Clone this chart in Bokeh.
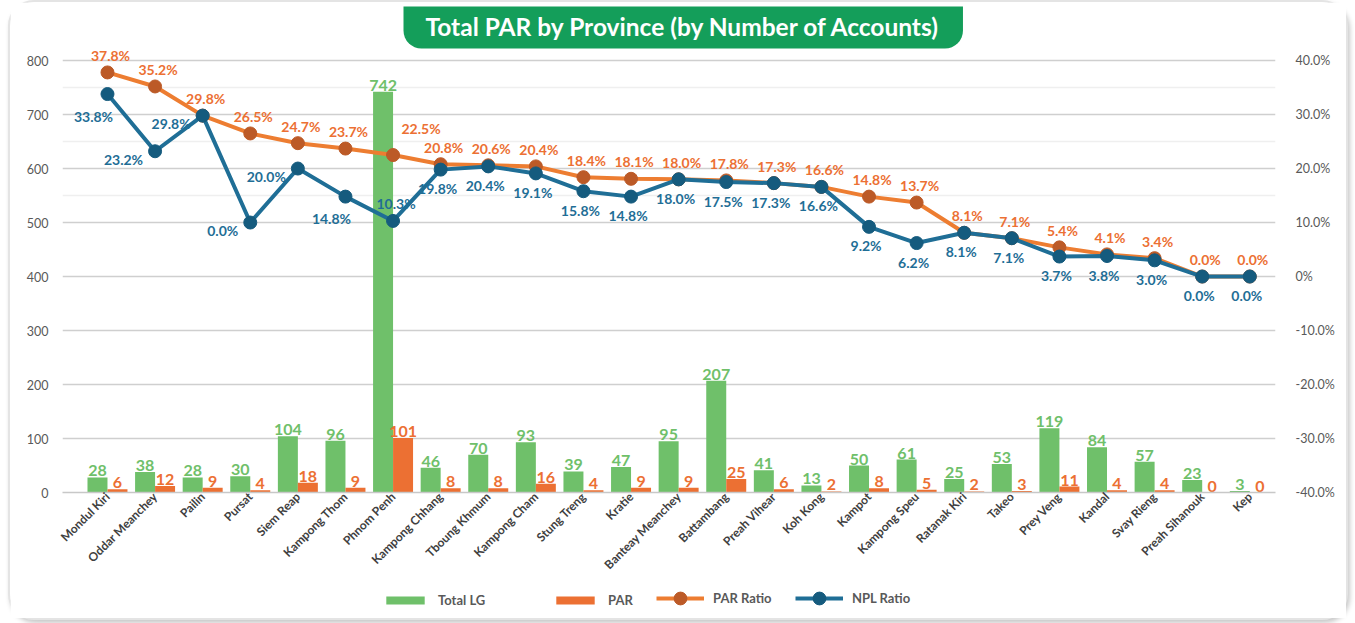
import math
from bokeh.plotting import figure
from bokeh.layouts import column
from bokeh.models import (Range1d, LinearAxis, FixedTicker, ColumnDataSource,
                          Legend, LegendItem, Span, CustomJSTickFormatter)
from bokeh.core.properties import value
from bokeh.embed import file_html
from bokeh.resources import INLINE

# ---------------- data ----------------
provinces = ["Mondul Kiri", "Oddar Meanchey", "Pailin", "Pursat", "Siem Reap", "Kampong Thom",
             "Phnom Penh", "Kampong Chhang", "Tboung Khmum", "Kampong Cham", "Stung Treng",
             "Kratie", "Banteay Meanchey", "Battambang", "Preah Vihear", "Koh Kong", "Kampot",
             "Kampong Speu", "Ratanak Kiri", "Takeo", "Prey Veng", "Kandal", "Svay Rieng",
             "Preah Sihanouk", "Kep"]
total_lg = [28, 38, 28, 30, 104, 96, 742, 46, 70, 93, 39, 47, 95, 207, 41, 13, 50, 61, 25, 53,
            119, 84, 57, 23, 3]
par = [6, 12, 9, 4, 18, 9, 101, 8, 8, 16, 4, 9, 9, 25, 6, 2, 8, 5, 2, 3, 11, 4, 4, 0, 0]
par_ratio = [37.8, 35.2, 29.8, 26.5, 24.7, 23.7, 22.5, 20.8, 20.6, 20.4, 18.4, 18.1, 18.0, 17.8,
             17.3, 16.6, 14.8, 13.7, 8.1, 7.1, 5.4, 4.1, 3.4, 0.0, 0.0]
# NPL ratio as plotted (Pursat point sits at ~10% although its label reads 0.0%)
npl_ratio = [33.8, 23.2, 29.8, 10.0, 20.0, 14.8, 10.3, 19.8, 20.4, 19.1, 15.8, 14.8, 18.0, 17.5,
             17.3, 16.6, 9.2, 6.2, 8.1, 7.1, 3.7, 3.8, 3.0, 0.0, 0.0]
npl_labels = ["33.8%", "23.2%", "29.8%", "0.0%", "20.0%", "14.8%", "10.3%", "19.8%", "20.4%",
              "19.1%", "15.8%", "14.8%", "18.0%", "17.5%", "17.3%", "16.6%", "9.2%", "6.2%",
              "8.1%", "7.1%", "3.7%", "3.8%", "3.0%", "0.0%", "0.0%"]
left_ticks = [0, 100, 200, 300, 400, 500, 600, 700, 800]
right_ticks = [-40, -30, -20, -10, 0, 10, 20, 30, 40]

# ---------------- style ----------------
GREEN = "#6FC06A"
ORANGE = "#EC7033"
ORANGE_LINE = "#ED7D31"
ORANGE_DOT = "#BC5A27"
BLUE = "#1F6E96"
BLUE_DOT = "#155B7E"
FONT = "Lato"
BAR_W = 0.42
Y_TOP = 822.33          # a little head-room above the 800 gridline for labels
PCT_TOP = -40 + 80 * Y_TOP / 800

par_place = ["above"] * 25
par_place[6] = "above_right"
npl_place = ["below_left", "left", "left", "left", "left", "below_left", "above"] + ["below"] * 18
offsets = {
    "above": (3, -17, "center"),
    "above_right": (28, -27, "center"),
    "below": (-3, 19, "center"),
    "below_left": (-14, 22, "center"),
    "left": (-12, 8, "right"),
}

p = figure(width=1336, height=580, output_backend="svg", toolbar_location=None,
           x_range=Range1d(-0.945, 24.54), y_range=Range1d(0, Y_TOP),
           min_border_left=52, min_border_right=71, min_border_top=46, min_border_bottom=90,
           outline_line_color=None, background_fill_color="white", border_fill_color="white")
p.extra_y_ranges = {"pct": Range1d(-40, PCT_TOP)}

# title banner
p.title.text = "Total PAR by Province (by Number of Accounts)"
p.title.align = "left"
p.title.offset = 341
p.title.text_font = FONT
p.title.text_font_style = "bold"
p.title.text_font_size = "24.5px"
p.title.text_color = "white"
p.title.background_fill_color = "#149E5A"
p.title.padding = dict(left=22, right=22, top=5, bottom=8)
p.title.border_radius = dict(top_left=0, top_right=0, bottom_right=18, bottom_left=18)
p.title.standoff = 0

# grid
p.xgrid.grid_line_color = None
p.ygrid.ticker = FixedTicker(ticks=left_ticks)
p.ygrid.grid_line_color = "#cfcfcf"
p.ygrid.grid_line_width = 1.5
for yv in (550, 650, 750):
    p.add_layout(Span(location=yv, dimension="width", line_color="#efefef", line_width=1.5,
                      level="underlay"))

# axes
p.yaxis.ticker = FixedTicker(ticks=left_ticks)
p.yaxis.axis_line_color = None
p.yaxis.major_tick_line_color = None
p.yaxis.minor_tick_line_color = None
p.yaxis.major_label_text_color = "#595959"
p.yaxis.major_label_text_font = FONT
p.yaxis.major_label_text_font_size = "12.5px"
p.yaxis.major_label_standoff = 8

ax_r = LinearAxis(y_range_name="pct", ticker=FixedTicker(ticks=right_ticks),
                  formatter=CustomJSTickFormatter(code="return tick == 0 ? '0%' : tick.toFixed(1) + '%';"))
ax_r.axis_line_color = None
ax_r.major_tick_line_color = None
ax_r.minor_tick_line_color = None
ax_r.major_label_text_color = "#595959"
ax_r.major_label_text_font = FONT
ax_r.major_label_text_font_size = "12.5px"
ax_r.major_label_standoff = 14
p.add_layout(ax_r, "right")

p.xaxis.ticker = FixedTicker(ticks=list(range(len(provinces))))
p.xaxis.major_label_overrides = {i: name for i, name in enumerate(provinces)}
p.xaxis.major_label_orientation = math.pi / 4
p.xaxis.major_tick_line_color = None
p.xaxis.minor_tick_line_color = None
p.xaxis.major_tick_out = 0
p.xaxis.axis_line_color = "#c8c8c8"
p.xaxis.axis_line_width = 1.5
p.xaxis.major_label_text_font = FONT
p.xaxis.major_label_text_font_style = "bold"
p.xaxis.major_label_text_font_size = "12px"
p.xaxis.major_label_text_color = "#404040"
p.xaxis.major_label_standoff = 2

# data
idx = list(range(len(provinces)))
src = ColumnDataSource(dict(
    x=idx,
    xg=[i - BAR_W / 2 for i in idx],
    xo=[i + BAR_W / 2 for i in idx],
    total=total_lg, par=par,
    total_t=[str(v) for v in total_lg], par_t=[str(v) for v in par],
    pr=par_ratio, npl=npl_ratio,
    pr_t=[f"{v:.1f}%" for v in par_ratio], npl_t=npl_labels,
))

p.vbar(x="xg", top="total", width=BAR_W, source=src, fill_color=GREEN, line_color=None)
p.vbar(x="xo", top="par", width=BAR_W, source=src, fill_color=ORANGE, line_color=None)

p.line(x="x", y="pr", source=src, y_range_name="pct", line_color=ORANGE_LINE, line_width=4)
p.scatter(x="x", y="pr", source=src, y_range_name="pct", size=13, fill_color=ORANGE_DOT,
          line_color=ORANGE_DOT)
p.line(x="x", y="npl", source=src, y_range_name="pct", line_color=BLUE, line_width=4)
p.scatter(x="x", y="npl", source=src, y_range_name="pct", size=13, fill_color=BLUE_DOT,
          line_color=BLUE_DOT)

# bar labels
p.text(x="xg", y="total", text="total_t", source=src, text_align="center", text_baseline="bottom",
       y_offset=-1, text_color=GREEN, text_font=value(FONT), text_font_style="bold",
       text_font_size="16px")
p.text(x="xo", y="par", text="par_t", source=src, text_align="center", text_baseline="bottom",
       y_offset=-1, text_color=ORANGE, text_font=value(FONT), text_font_style="bold",
       text_font_size="16px")

# ratio labels
def ratio_labels(col, tcol, places, color):
    for place in sorted(set(places)):
        dx, dy, align = offsets[place]
        sel = [i for i in idx if places[i] == place]
        s = ColumnDataSource(dict(x=[idx[i] for i in sel], y=[src.data[col][i] for i in sel],
                                  t=[src.data[tcol][i] for i in sel]))
        p.text(x="x", y="y", text="t", source=s, y_range_name="pct", x_offset=dx, y_offset=dy,
               text_align=align, text_baseline="middle", text_color=color,
               text_font=value(FONT), text_font_style="bold", text_font_size="14px")

ratio_labels("pr", "pr_t", par_place, ORANGE)
ratio_labels("npl", "npl_t", npl_place, BLUE)

# ---------------- legend strip ----------------
lg = figure(width=1336, height=36, output_backend="svg", toolbar_location=None,
            x_axis_location=None, y_axis_location=None,
            x_range=Range1d(0, 1), y_range=Range1d(0, 1), min_border=0,
            outline_line_color=None, background_fill_color="white", border_fill_color="white")
lg.grid.grid_line_color = None
# swatch renderers (their single point lies outside the visible range)
d_g = lg.vbar(x=[-5], top=[-5], width=0.1, fill_color=GREEN, line_color=None)
d_o = lg.vbar(x=[-5], top=[-5], width=0.1, fill_color=ORANGE, line_color=None)
d_pl = lg.line(x=[-5, -4], y=[-5, -4], line_color=ORANGE_LINE, line_width=4)
d_pd = lg.scatter(x=[-5], y=[-5], fill_color=ORANGE_DOT, line_color=ORANGE_DOT)
d_nl = lg.line(x=[-5, -4], y=[-5, -4], line_color=BLUE, line_width=4)
d_nd = lg.scatter(x=[-5], y=[-5], fill_color=BLUE_DOT, line_color=BLUE_DOT)

def add_legend(label, renderers, sx, gh):
    leg = Legend(items=[LegendItem(label=label, renderers=renderers)],
                 location=(sx - 65, 20 - max(gh, 20) // 2), orientation="horizontal",
                 background_fill_alpha=0, border_line_color=None, glyph_width=48, glyph_height=gh,
                 label_text_font_size="13px", label_text_color="#595959", label_text_font=FONT,
                 label_text_font_style="bold", padding=0, margin=0, label_standoff=9)
    lg.add_layout(leg, "center")

add_legend("Total LG", [d_g], 384, 10)
add_legend("PAR", [d_o], 554, 10)
add_legend("PAR Ratio", [d_pl, d_pd], 659, 32)
add_legend("NPL Ratio", [d_nl, d_nd], 798, 32)

layout = column(p, lg, spacing=0)
layout.styles = {"border": "2px solid #e4e4e4", "border-radius": "26px", "margin-left": "8px",
                 "box-shadow": "2px 3px 5px rgba(0,0,0,0.22)", "background-color": "white"}

open("out.html", "w").write(file_html(layout, INLINE))
